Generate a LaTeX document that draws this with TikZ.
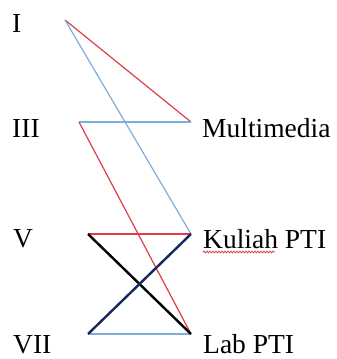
\documentclass[tikz,border=0pt]{standalone}
\usepackage{fontspec}
\setmainfont{Liberation Serif}
\usetikzlibrary{positioning,decorations.pathmorphing}
\definecolor{merah}{RGB}{222,62,72}
\definecolor{biruMuda}{RGB}{128,172,216}
\definecolor{biruTua}{RGB}{24,38,96}
\tikzset{
label/.style={
  font=\fontsize{27.5}{33}\selectfont,
  inner sep=0pt,
  anchor=base west
},
tipis/.style={line width=1.2pt},
tebal/.style={line width=2.4pt},
}

\begin{document}
\begin{tikzpicture}[x=1pt,y=-1pt]
        \useasboundingbox (0,0) rectangle (337,359);
        % semester di kiri
        \node[label] (sI)   at (12,32)  {I};
        \node[label] (sIII) at (12,137) {III};
        \node[label] (sV)   at (13,247) {V};
        \node[label] (sVII) at (13,353) {VII};
        % mata kuliah di kanan
        \node[label] (mm)  at (202,137) {Multimedia};
        \node[label] (kul) at (203,248) {Kuliah PTI};
        \node[label] (lab) at (203,353) {Lab PTI};
        % titik ujung garis
        \coordinate (pI)   at (65,20);
        \coordinate (pIII) at (79,122);
        \coordinate (pV)   at (88,234);
        \coordinate (pVII) at (88,334);
        \coordinate (pmm)  at (191,122);
        \coordinate (pkul) at (191,234);
        \coordinate (plab) at (191,334);
        % garis tipis
        \draw[tipis, merah]    (pI) -- (pmm);
        \draw[tipis, biruMuda] (pI) -- (pkul);
        \draw[tipis, biruMuda] (pIII) -- (pmm);
        \draw[tipis, merah]    (pIII) -- (plab);
        \draw[tipis, merah]    (pV) -- (pkul);
        \draw[tipis, biruMuda] (pVII) -- (plab);
        % garis tebal
        \draw[tebal, black]   (pV) -- (plab);
        \draw[tebal, biruTua] (pVII) -- (pkul);
        % garis berombak di bawah Kuliah
        \draw[merah, line width=0.8pt, decorate,
              decoration={snake, amplitude=0.9pt, segment length=3pt}]
              (kul.base west) ++(0,4) -- ++(72,0);
\end{tikzpicture}
\end{document}
